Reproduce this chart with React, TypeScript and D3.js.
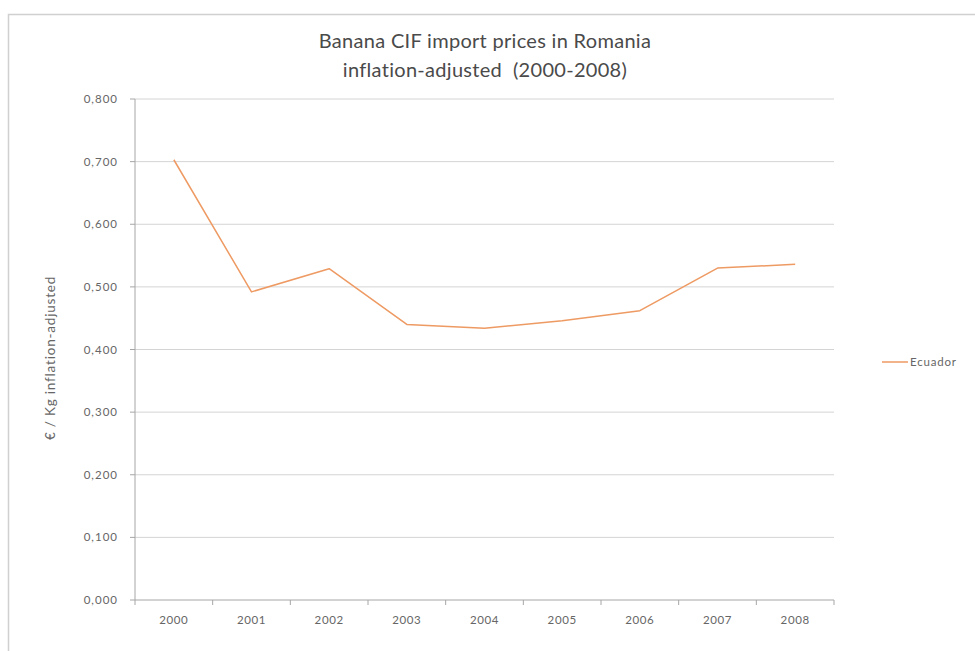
import React from "react";
import * as d3 from "d3";

const years = ["2000", "2001", "2002", "2003", "2004", "2005", "2006", "2007", "2008"];
const ecuador = [0.703, 0.492, 0.529, 0.440, 0.434, 0.446, 0.462, 0.530, 0.536];
const yTicks = [0, 0.1, 0.2, 0.3, 0.4, 0.5, 0.6, 0.7, 0.8];
const titleLines = ["Banana CIF import prices in Romania", "inflation-adjusted  (2000-2008)"];
const yAxisTitle = "€ / Kg inflation-adjusted";
const seriesName = "Ecuador";

const W = 975;
const H = 651;
const FONT = "Lato, 'Open Sans', sans-serif";

export default function App() {
  const left = 135;
  const right = 834;
  const top = 99;
  const bottom = 600;

  const x = d3.scaleBand<string>().domain(years).range([left, right]).padding(0);
  const y = d3.scaleLinear().domain([0, 0.8]).range([bottom, top]);
  const fmt = (v: number) => d3.format(".3f")(v).replace(".", ",");

  const line = d3
    .line<number>()
    .x((_, i) => (x(years[i]) as number) + x.bandwidth() / 2)
    .y((d) => y(d));

  const boundaries = d3.range(years.length + 1).map((i) => left + i * x.step());

  return (
    <svg
      width={W}
      height={H}
      style={{ position: "absolute", left: 0, top: 0, display: "block" }}
    >
      <rect x={0} y={0} width={W} height={H} fill="#ffffff" />
      <rect x={8.5} y={14.5} width={W + 10} height={H + 10} fill="#ffffff" stroke="#d0d0d0" strokeWidth={1.5} />

      {titleLines.map((t, i) => (
        <text
          key={i}
          x={485}
          y={48 + i * 29}
          textAnchor="middle"
          fontFamily={FONT}
          fontSize={20}
          letterSpacing={0.3}
          fill="#4a4a4a"
          style={{ whiteSpace: "pre" }}
        >
          {t}
        </text>
      ))}

      {yTicks.map((v) => (
        <g key={v}>
          {v > 0 && (
            <line x1={left} x2={right} y1={y(v)} y2={y(v)} stroke="#d4d4d4" strokeWidth={1} />
          )}
          <line x1={left - 5} x2={left} y1={y(v)} y2={y(v)} stroke="#a6a6a6" strokeWidth={1} />
          <text
            x={118}
            y={y(v)}
            dy="0.35em"
            textAnchor="end"
            fontFamily={FONT}
            fontSize={11.5}
            letterSpacing={1}
            fill="#666666"
          >
            {fmt(v)}
          </text>
        </g>
      ))}

      <line x1={left} x2={left} y1={top} y2={bottom} stroke="#a6a6a6" strokeWidth={1} />
      <line x1={left} x2={right} y1={bottom} y2={bottom} stroke="#a6a6a6" strokeWidth={1} />
      {boundaries.map((bx, i) => (
        <line key={i} x1={bx} x2={bx} y1={bottom} y2={bottom + 5} stroke="#a6a6a6" strokeWidth={1} />
      ))}

      {years.map((yr) => (
        <text
          key={yr}
          x={(x(yr) as number) + x.bandwidth() / 2}
          y={624}
          textAnchor="middle"
          fontFamily={FONT}
          fontSize={11.5}
          letterSpacing={0.6}
          fill="#666666"
        >
          {yr}
        </text>
      ))}

      <text
        transform={`translate(55, 358) rotate(-90)`}
        textAnchor="middle"
        fontFamily={FONT}
        fontSize={13.5}
        letterSpacing={0.8}
        fill="#666666"
      >
        {yAxisTitle}
      </text>

      <path d={line(ecuador) || ""} fill="none" stroke="#EE9A63" strokeWidth={1.5} strokeLinejoin="round" />

      <line x1={882} x2={908} y1={362} y2={362} stroke="#EE9A63" strokeWidth={1.5} />
      <text x={910} y={362} dy="0.35em" fontFamily={FONT} fontSize={11.5} letterSpacing={0.8} fill="#666666">
        {seriesName}
      </text>
    </svg>
  );
}
